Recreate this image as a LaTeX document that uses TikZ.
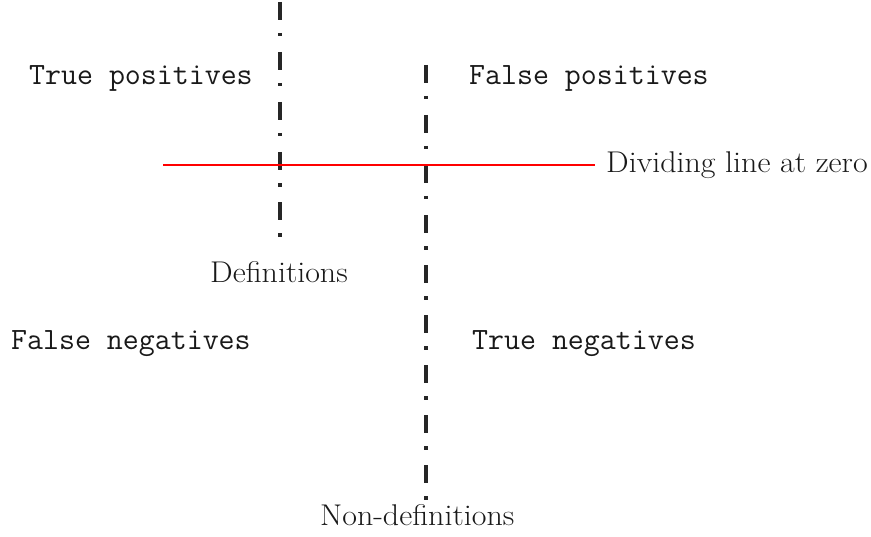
\documentclass[tikz,border=0pt]{standalone}
\usepackage{fontspec}
\usepackage{graphicx}
\newcommand{\wider}[1]{\scalebox{1.065}[1]{#1}}
\begin{document}
\begin{tikzpicture}[x=1bp,y=-1bp,
  mono/.style={font=\ttfamily\fontsize{31bp}{34bp}\selectfont\addfontfeature{FakeBold=0.6}, anchor=base west, inner sep=0pt, text=black!90},
  serif/.style={font=\rmfamily\fontsize{30bp}{34bp}\selectfont, anchor=base west, inner sep=0pt, text=black!90},
  dashdot/.style={line width=3.5bp, draw=black!85, line cap=butt, dash pattern=on 18bp off 13bp on 3.5bp off 15.5bp},
  redline/.style={draw=red, line width=2.3bp}]
\useasboundingbox (0,0) rectangle (871,537);
\coordinate (defTop) at (280,2);
\coordinate (defBot) at (280,237);
\coordinate (ndTop) at (426,65);
\coordinate (ndBot) at (426,502);
\coordinate (zeroL) at (163,165);
\coordinate (zeroR) at (595,165);
\draw[dashdot] (defTop) -- (defBot);
\draw[dashdot] (ndTop) -- (ndBot);
\draw[redline] (zeroL) -- (zeroR);
\node[mono] (tp) at (29,85) {True positives};
\node[mono] (fp) at (469,85) {False positives};
\node[mono] (fn) at (11,349) {False negatives};
\node[mono] (tn) at (472,349) {True negatives};
\node[serif] (def) at (210,283) {\wider{Definitions}};
\node[serif] (nondef) at (320,525) {\wider{Non-definitions}};
\node[serif] (zero) at (606,173) {\wider{Dividing line at zero}};
\end{tikzpicture}
\end{document}
